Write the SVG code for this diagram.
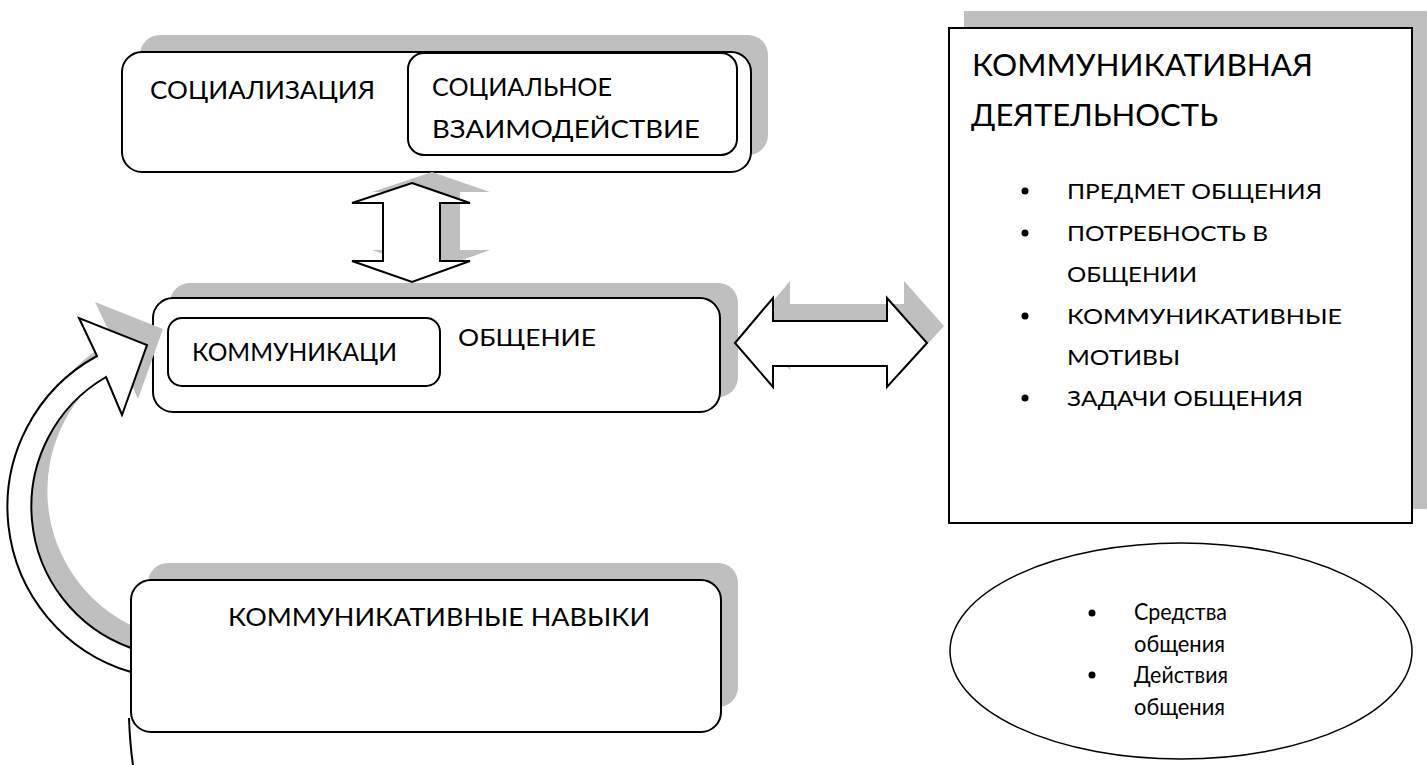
<svg xmlns="http://www.w3.org/2000/svg" width="1427" height="765" viewBox="0 0 1427 765">
<style>
.sh{fill:#bfbfbf;stroke:none}
.bx{fill:#fff;stroke:#000;stroke-width:2}
.ar{fill:#fff;stroke:#000;stroke-width:2;stroke-linejoin:miter}
text{font-family:Lato,"Liberation Sans",sans-serif;fill:#000}
.t25{font-size:25px}
.t24{font-size:24px}
.t23{font-size:23px}
.t31{font-size:31px}
.t21{font-size:21px}
</style>
<defs>
<polygon id="varr" points="412,183 470,203 440,203 440,261 470,261 412,282 352,261 383,261 383,203 352,203"/>
<polygon id="harr" points="735,343 773,298 773,321 887,321 887,298 927,343 887,387 887,366 773,366 773,387"/>
<path id="carr" d="M97,356 L79,318 L147,345 L122,415 L106,377 A150,150 0 0 0 131,648 L131,672 A172,172 0 0 1 97,356 Z"/>
</defs>

<g id="right-box">
<rect class="sh" x="964" y="11" width="463" height="498"/>
<rect x="949" y="28" width="463" height="495" fill="#fff" stroke="#000" stroke-width="2"/>
<text class="t31" x="972" y="76" textLength="341" lengthAdjust="spacingAndGlyphs">КОММУНИКАТИВНАЯ</text>
<text class="t31" x="971" y="126" textLength="247" lengthAdjust="spacingAndGlyphs">ДЕЯТЕЛЬНОСТЬ</text>
<circle cx="1025" cy="191" r="3.5"/>
<text class="t21" x="1067" y="199" textLength="255" lengthAdjust="spacingAndGlyphs">ПРЕДМЕТ ОБЩЕНИЯ</text>
<circle cx="1025" cy="233" r="3.5"/>
<text class="t21" x="1067" y="241" textLength="201" lengthAdjust="spacingAndGlyphs">ПОТРЕБНОСТЬ В</text>
<text class="t21" x="1067" y="282" textLength="130" lengthAdjust="spacingAndGlyphs">ОБЩЕНИИ</text>
<circle cx="1025" cy="316" r="3.5"/>
<text class="t21" x="1067" y="324" textLength="275" lengthAdjust="spacingAndGlyphs">КОММУНИКАТИВНЫЕ</text>
<text class="t21" x="1067" y="365" textLength="113" lengthAdjust="spacingAndGlyphs">МОТИВЫ</text>
<circle cx="1025" cy="398" r="3.5"/>
<text class="t21" x="1067" y="406" textLength="236" lengthAdjust="spacingAndGlyphs">ЗАДАЧИ ОБЩЕНИЯ</text>
</g>

<g id="ellipse-node">
<ellipse cx="1181" cy="651" rx="231" ry="108" fill="#fff" stroke="#000" stroke-width="1.5"/>
<circle cx="1092" cy="613" r="3.5"/>
<text class="t23" x="1134" y="620" textLength="93" lengthAdjust="spacingAndGlyphs">Средства</text>
<text class="t23" x="1134" y="652" textLength="91" lengthAdjust="spacingAndGlyphs">общения</text>
<circle cx="1092" cy="675" r="3.5"/>
<text class="t23" x="1134" y="683" textLength="94" lengthAdjust="spacingAndGlyphs">Действия</text>
<text class="t23" x="1134" y="715" textLength="91" lengthAdjust="spacingAndGlyphs">общения</text>
</g>

<g id="socializ">
<rect class="sh" x="140" y="35" width="628" height="120" rx="20"/>
<rect class="bx" x="122" y="52" width="629" height="120" rx="20"/>
<text class="t25" x="150" y="99" textLength="225" lengthAdjust="spacingAndGlyphs">СОЦИАЛИЗАЦИЯ</text>
<g id="soc-vzaim">
<rect class="bx" x="408" y="53" width="329" height="102" rx="16"/>
<text class="t25" x="432" y="96" textLength="180" lengthAdjust="spacingAndGlyphs">СОЦИАЛЬНОЕ</text>
<text class="t25" x="432" y="138" textLength="268" lengthAdjust="spacingAndGlyphs">ВЗАИМОДЕЙСТВИЕ</text>
</g>
</g>

<g id="obshenie">
<rect class="sh" x="170" y="283" width="568" height="114" rx="20"/>
<rect class="bx" x="153" y="298" width="567" height="114" rx="20"/>
<text class="t24" x="458" y="346" textLength="138" lengthAdjust="spacingAndGlyphs">ОБЩЕНИЕ</text>
<g id="kommunikaci">
<rect class="bx" x="168" y="318" width="272" height="68" rx="14"/>
<text class="t25" x="192" y="361" textLength="205" lengthAdjust="spacingAndGlyphs">КОММУНИКАЦИ</text>
</g>
</g>

<g id="connectors">
<use href="#varr" class="sh" transform="translate(20,-11)"/>
<use href="#varr" class="ar"/>
<use href="#harr" class="sh" transform="translate(17,-17)"/>
<use href="#harr" class="ar"/>
<use href="#carr" class="sh" transform="translate(16,-16)"/>
<use href="#carr" class="ar"/>
<path d="M129,718 Q130,745 133,765" fill="none" stroke="#000" stroke-width="2"/>
</g>

<g id="navyki">
<rect class="sh" x="148" y="563" width="590" height="144" rx="20"/>
<rect class="bx" x="131" y="580" width="590" height="152" rx="20"/>
<text class="t25" x="228" y="626" textLength="422" lengthAdjust="spacingAndGlyphs">КОММУНИКАТИВНЫЕ НАВЫКИ</text>
</g>
</svg>
